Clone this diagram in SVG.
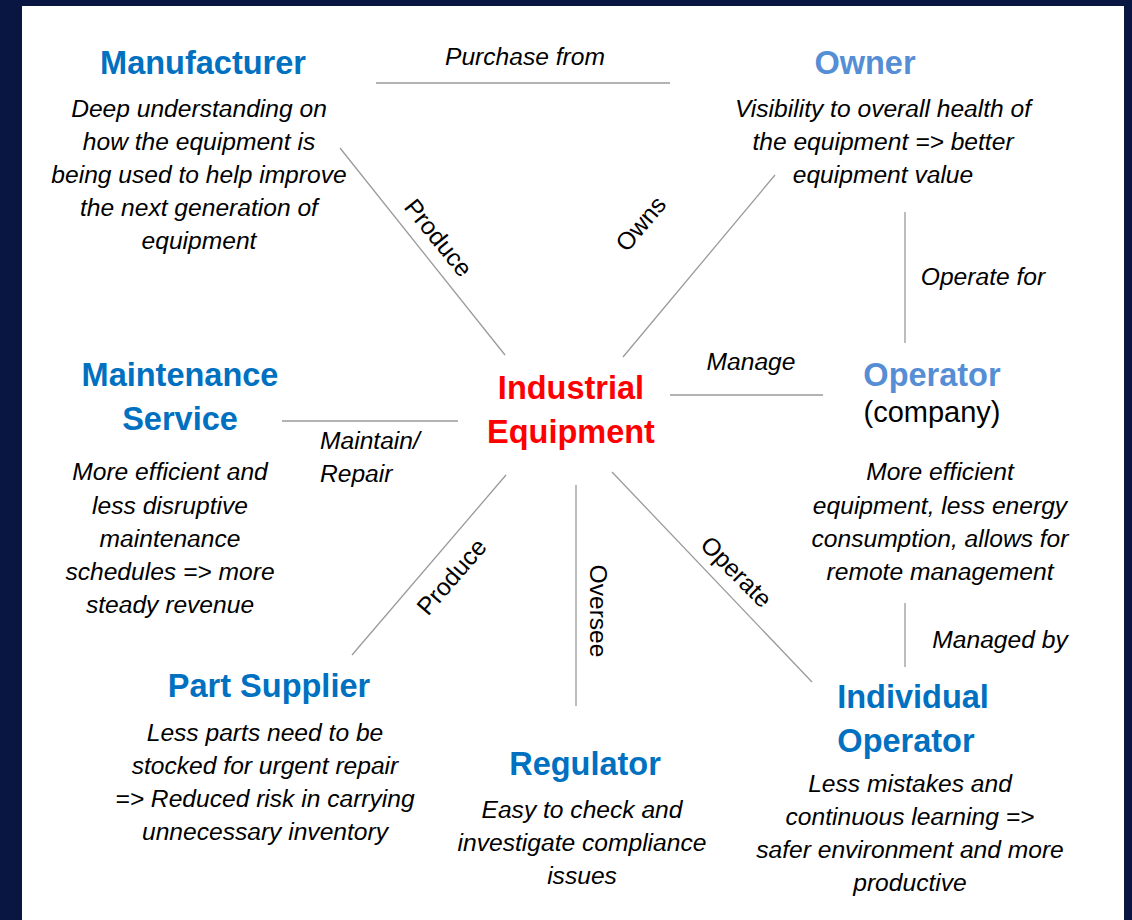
<svg xmlns="http://www.w3.org/2000/svg" width="1132" height="920" viewBox="0 0 1132 920">
<style>
text{font-family:"Liberation Sans",Arial,sans-serif}
.t{font-size:32.5px;font-weight:bold;text-anchor:middle;fill:#0070c0}
.tl{font-size:32.5px;font-weight:bold;text-anchor:middle;fill:#558ed5}
.d{font-size:24.6px;font-style:italic;text-anchor:middle;fill:#000}
.l{font-size:24.6px;font-style:italic;fill:#000}
.r{font-size:24.6px;text-anchor:middle;fill:#000}
.c line{stroke:#9a9a9a;stroke-width:1.3}
</style>
<rect x="0" y="0" width="1132" height="920" fill="#0a1642"/>
<rect x="22" y="6" width="1102" height="914" fill="#ffffff"/>
<g class="c" id="connectors">
<line x1="376" y1="83" x2="670" y2="83"/>
<line x1="340" y1="148" x2="505" y2="355"/>
<line x1="775" y1="175" x2="623" y2="357"/>
<line x1="905" y1="212" x2="905" y2="343"/>
<line x1="670" y1="395" x2="823" y2="395"/>
<line x1="282" y1="421" x2="458" y2="421"/>
<line x1="506" y1="475" x2="352" y2="655"/>
<line x1="576" y1="485" x2="576" y2="706"/>
<line x1="612" y1="472" x2="812" y2="682"/>
<line x1="905" y1="603" x2="905" y2="667"/>
<text class="l" x="525" y="65" text-anchor="middle">Purchase from</text>
<text class="r" transform="translate(438,238) rotate(51)" y="8">Produce</text>
<text class="r" transform="translate(641,224) rotate(-50)" y="8">Owns</text>
<text class="l" x="983" y="285" text-anchor="middle">Operate for</text>
<text class="l" x="751" y="370" text-anchor="middle">Manage</text>
<text class="l" x="320" y="449">Maintain/</text>
<text class="l" x="320" y="482">Repair</text>
<text class="r" transform="translate(452,577) rotate(-49)" y="8">Produce</text>
<text class="r" transform="translate(598,611) rotate(90)" y="8">Oversee</text>
<text class="r" transform="translate(736,572) rotate(45)" y="8">Operate</text>
<text class="l" x="1000" y="648" text-anchor="middle">Managed by</text>
</g>
<g id="center">
<text x="571" y="399" font-size="32.5" font-weight="bold" text-anchor="middle" fill="#ff0000">Industrial</text>
<text x="571" y="443" font-size="32.5" font-weight="bold" text-anchor="middle" fill="#ff0000">Equipment</text>
</g>
<g id="manufacturer">
<text class="t" x="203" y="74">Manufacturer</text>
<text class="d" x="199" y="117">Deep understanding on</text>
<text class="d" x="199" y="150">how the equipment is</text>
<text class="d" x="199" y="183">being used to help improve</text>
<text class="d" x="199" y="216">the next generation of</text>
<text class="d" x="199" y="249">equipment</text>
</g>
<g id="owner">
<text class="tl" x="865" y="74">Owner</text>
<text class="d" x="883" y="117">Visibility to overall health of</text>
<text class="d" x="883" y="150">the equipment =&gt; better</text>
<text class="d" x="883" y="183">equipment value</text>
</g>
<g id="operator">
<text class="tl" x="932" y="386">Operator</text>
<text x="932" y="422" font-size="29" text-anchor="middle" fill="#000">(company)</text>
<text class="d" x="940" y="480">More efficient</text>
<text class="d" x="940" y="514">equipment, less energy</text>
<text class="d" x="940" y="547">consumption, allows for</text>
<text class="d" x="940" y="580">remote management</text>
</g>
<g id="maintenance">
<text class="t" x="180" y="386">Maintenance</text>
<text class="t" x="180" y="430">Service</text>
<text class="d" x="170" y="480">More efficient and</text>
<text class="d" x="170" y="514">less disruptive</text>
<text class="d" x="170" y="547">maintenance</text>
<text class="d" x="170" y="580">schedules =&gt; more</text>
<text class="d" x="170" y="613">steady revenue</text>
</g>
<g id="partsupplier">
<text class="t" x="269" y="697">Part Supplier</text>
<text class="d" x="265" y="741">Less parts need to be</text>
<text class="d" x="265" y="774">stocked for urgent repair</text>
<text class="d" x="265" y="807">=&gt; Reduced risk in carrying</text>
<text class="d" x="265" y="840">unnecessary inventory</text>
</g>
<g id="regulator">
<text class="t" x="585" y="775">Regulator</text>
<text class="d" x="582" y="818">Easy to check and</text>
<text class="d" x="582" y="851">investigate compliance</text>
<text class="d" x="582" y="884">issues</text>
</g>
<g id="individual">
<text class="t" x="913" y="708">Individual</text>
<text class="t" x="906" y="752">Operator</text>
<text class="d" x="910" y="792">Less mistakes and</text>
<text class="d" x="910" y="825">continuous learning  =&gt;</text>
<text class="d" x="910" y="858">safer environment and more</text>
<text class="d" x="910" y="891">productive</text>
</g>
</svg>
